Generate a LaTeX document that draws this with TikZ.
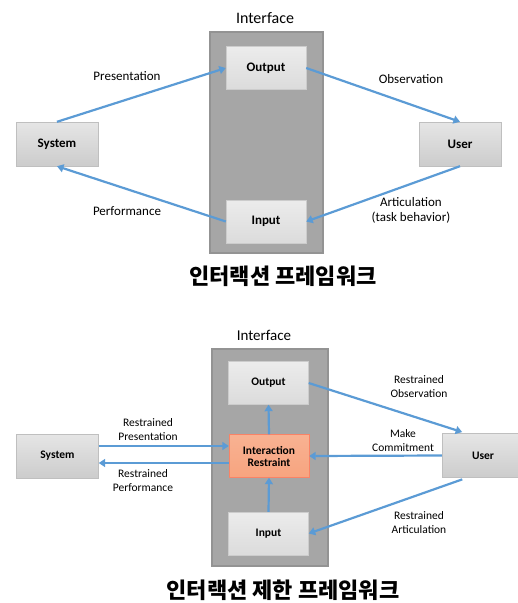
\documentclass[tikz,border=0pt]{standalone}
\usepackage{fontspec}
\setmainfont{Carlito}
\newfontfamily\krfont{Noto Sans CJK KR}
\usetikzlibrary{arrows.meta, positioning}

\definecolor{flowblue}{HTML}{5B9BD5}
\definecolor{ifacegray}{HTML}{A6A6A6}
\definecolor{restrain}{HTML}{F7A47F}

\begin{document}
\begin{tikzpicture}[x=1pt, y=-1pt,
    ifacebox/.style={draw=gray!85, line width=1.5pt, fill=ifacegray, minimum width=113pt, minimum height=221pt},
    innerbox/.style={draw=gray!40, top color=gray!15, bottom color=gray!28, minimum width=80pt, minimum height=43pt, font=\bfseries\fontsize{13}{15}\selectfont},
    sidebox/.style={draw=gray!50, top color=gray!20, bottom color=gray!40, minimum width=82pt, minimum height=44pt, font=\bfseries\fontsize{13}{15}\selectfont},
    flow/.style={draw=flowblue, line width=2.2pt, -{Triangle[width=8pt,length=6.5pt]}},
    lbl/.style={align=center, font=\fontsize{13}{15}\selectfont},
    title/.style={font=\krfont\bfseries\fontsize{22}{26}\selectfont}
]
    \useasboundingbox (0,0) rectangle (518,603);

    % Interface
    \node[ifacebox] (iface) at (266.5,142.5) {};
    \node[font=\fontsize{16}{18}\selectfont] (ifacetxt) at (265,18) {Interface};
    \node[innerbox] (out) at (266,68) {Output};
    \node[innerbox] (in) at (266,221.5) {Input};

    % System and user
    \node[sidebox] (sys) at (57,144) {System};
    \node[sidebox] (user) at (460,144) {User};

    % Flows
    \draw[flow] (sys.north) -- (out.west);
    \draw[flow] (out.east) -- (user.north);
    \draw[flow] (in.west) -- (sys.south);
    \draw[flow] (user.south) -- (in.east);

    \node[lbl] (pres) at (127,76) {Presentation};
    \node[lbl] (obs) at (411,79) {Observation};
    \node[lbl] (perf) at (127,211) {Performance};
    \node[lbl] (artic) at (411,210) {Articulation\\(task behavior)};

    \node[title] (fw) at (283,276) {인터랙션 프레임워크};

    \begin{scope}[
        innerbox/.append style={font=\bfseries\fontsize{11.5}{14}\selectfont},
        sidebox/.append style={font=\bfseries\fontsize{11.5}{14}\selectfont},
        lbl/.append style={font=\fontsize{11.5}{14}\selectfont}]
        % Interface with restraint
        \node[ifacebox, minimum width=116pt, minimum height=217pt] (iface2) at (270,457.5) {};
        \node[font=\fontsize{15}{17}\selectfont] (ifacetxt2) at (264,335) {Interface};
        \node[innerbox] (out2) at (268.5,383) {Output};
        \node[innerbox, align=center, draw=restrain!80!red, top color=restrain!85, bottom color=restrain] (ir) at (269,456) {Interaction\\[-2pt]Restraint};
        \node[innerbox] (in2) at (268.5,533.5) {Input};

        % System and user
        \node[sidebox] (sys2) at (57.5,456) {System};
        \node[sidebox] (user2) at (483,455.5) {User};

        % Flows
        \draw[flow] ([yshift=10pt]sys2.east) -- ([yshift=10pt]ir.west);
        \draw[flow] ([yshift=-7pt]ir.west) -- ([yshift=-7pt]sys2.east);
        \draw[flow] (ir.north) -- (out2.south);
        \draw[flow] (in2.north) -- (ir.south);
        \draw[flow] (user2.west) -- (ir.east);
        \draw[flow, shorten >=4pt] (out2.east) -- ([xshift=-17pt]user2.north);
        \draw[flow, shorten <=5pt] ([xshift=-16pt]user2.south) -- (in2.east);

        \node[lbl] (rpres) at (148,430) {Restrained\\Presentation};
        \node[lbl] (rperf) at (143,481) {Restrained\\Performance};
        \node[lbl] (commit) at (403,441) {Make\\Commitment};
        \node[lbl] (robs) at (419,387) {Restrained\\Observation};
        \node[lbl] (rartic) at (419,523) {Restrained\\Articulation};

        \node[title] (fw2) at (283,590) {인터랙션 제한 프레임워크};
    \end{scope}
\end{tikzpicture}
\end{document}
